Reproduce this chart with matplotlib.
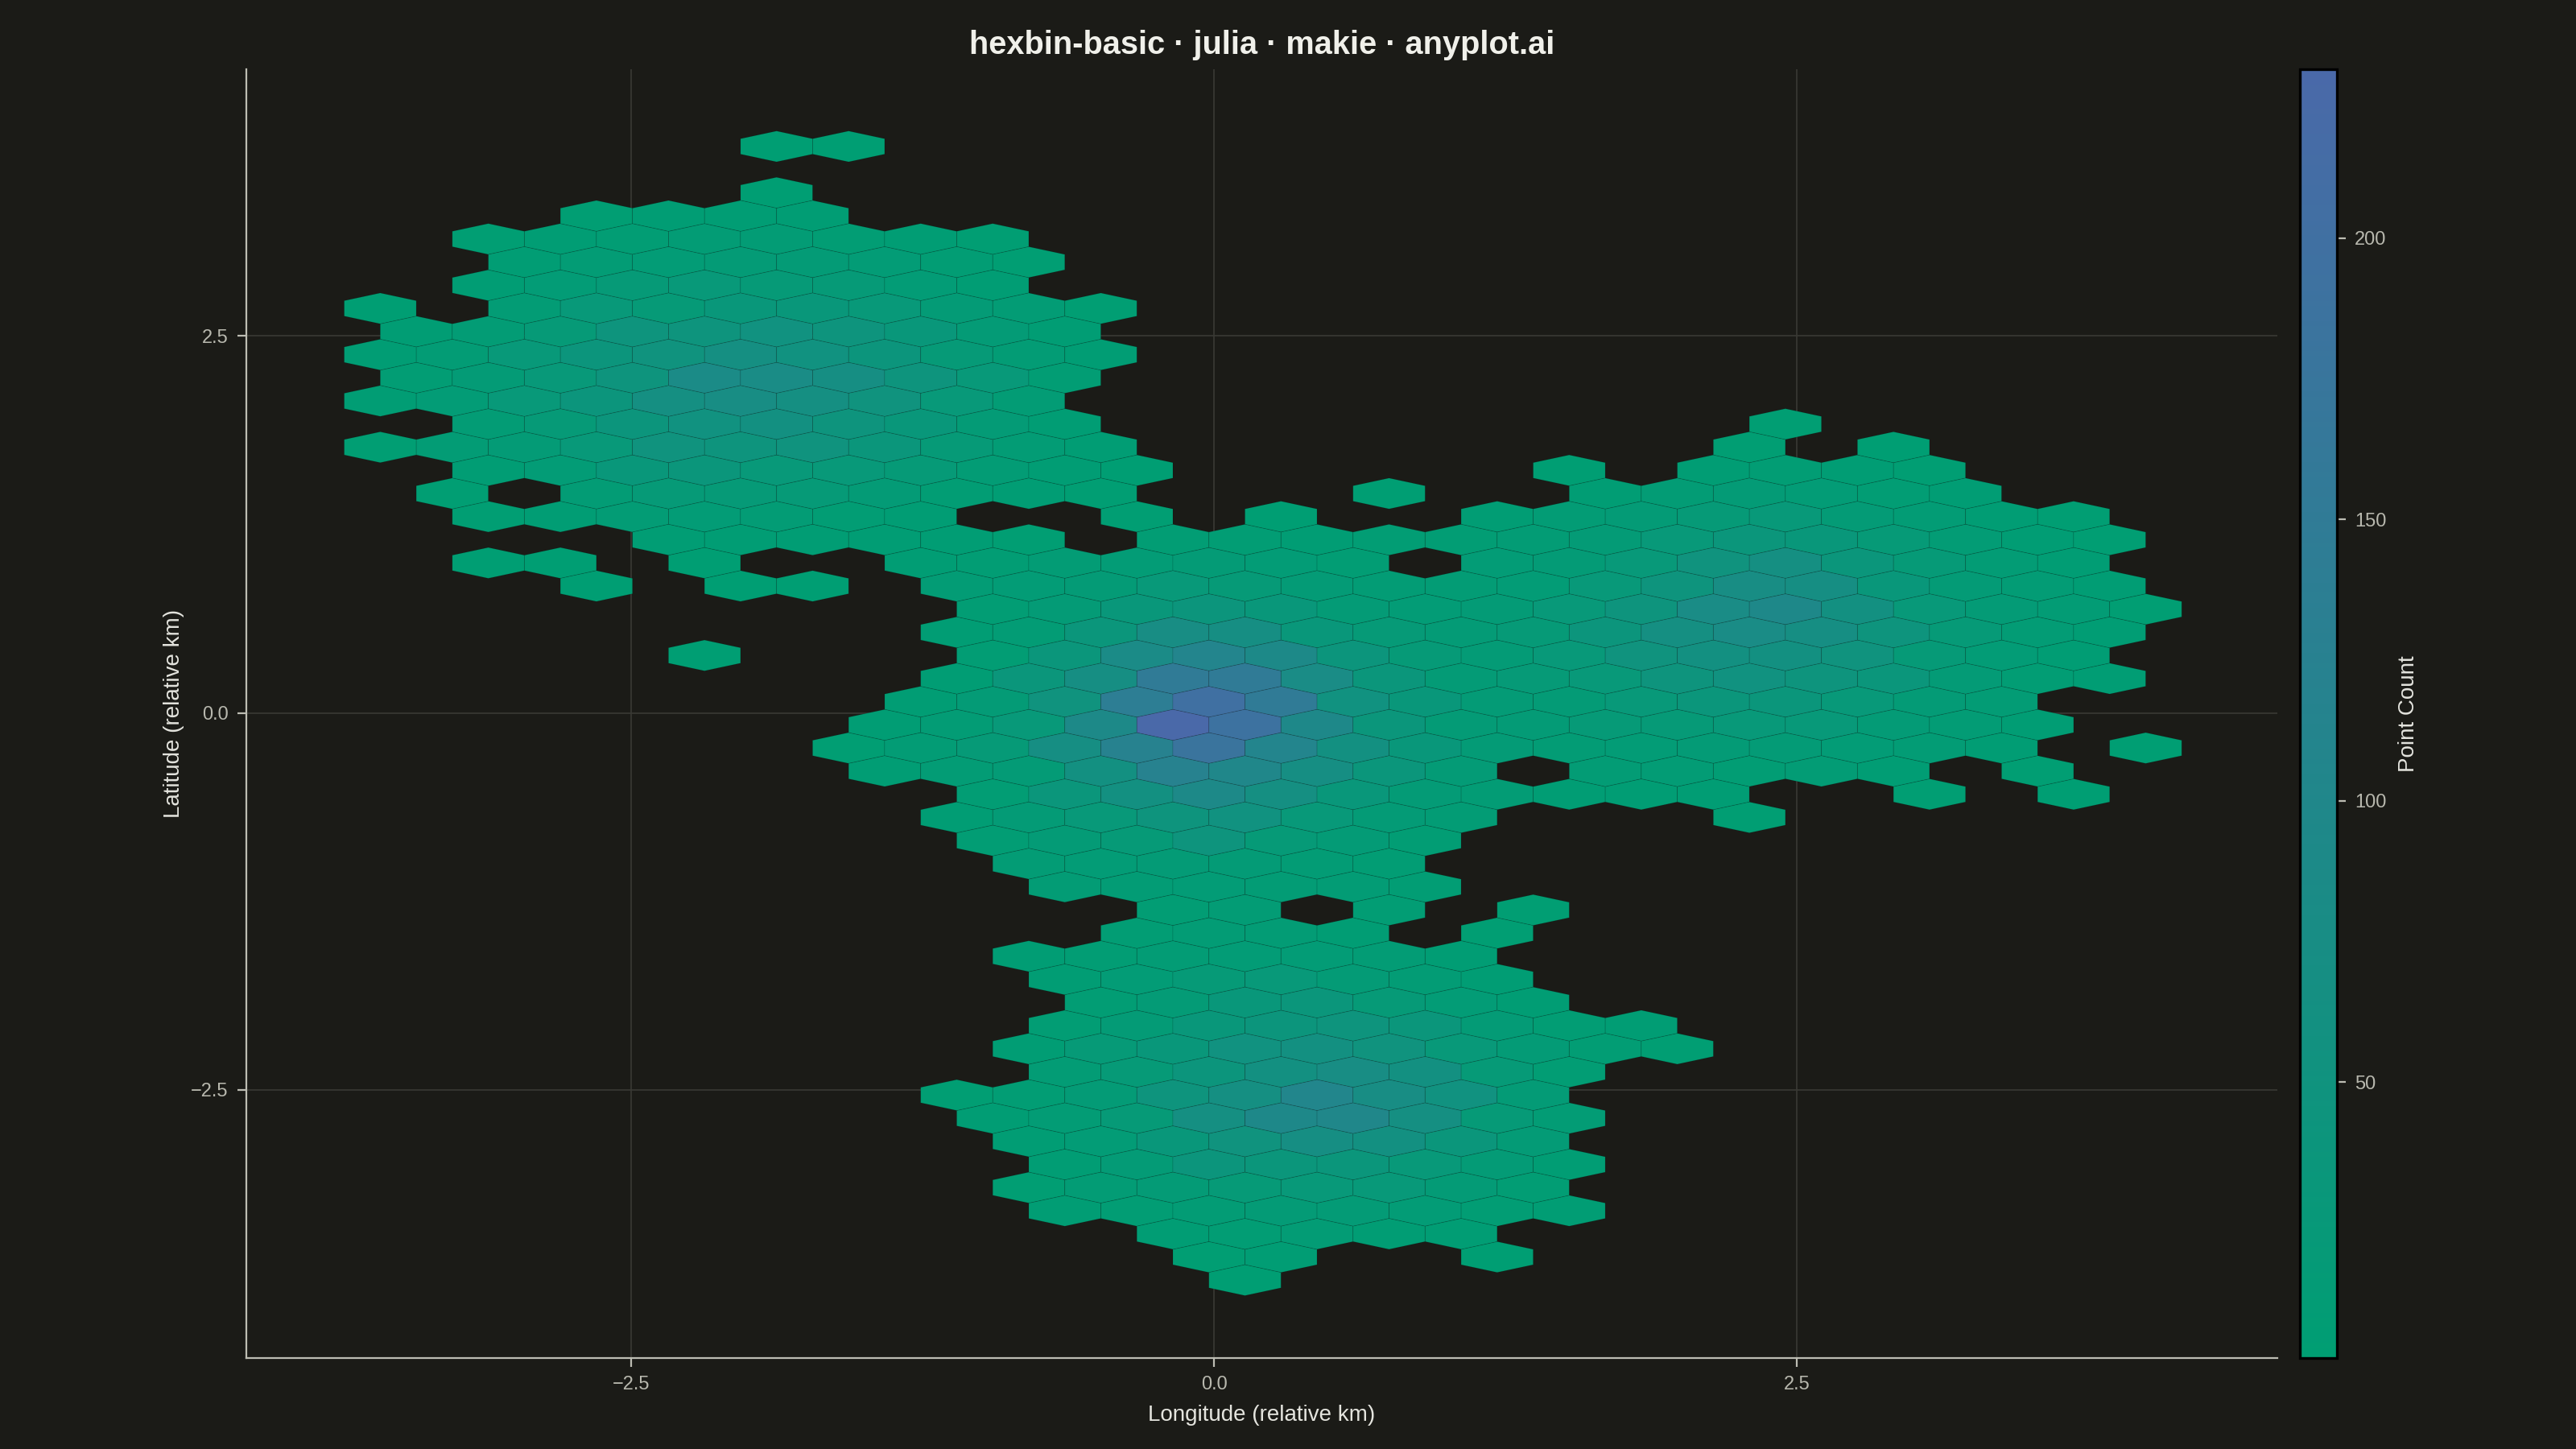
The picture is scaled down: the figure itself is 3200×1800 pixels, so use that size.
"""
Hexbin of point counts (dark theme), redrawn from a Makie chart.
Counts per hexagon were read off the picture.
"""

import numpy as np
import matplotlib
matplotlib.use("Agg")
from matplotlib import pyplot as plt
from matplotlib.colors import LinearSegmentedColormap

# Hexagon counts: row index -> list of (first column, counts).
# Inside a row the column index steps by 2; 0 means an empty cell.
rows = {
    24: [(-12, [1, 1])],
    22: [(-12, [2])],
    21: [(-17, [3, 4, 5, 4])],
    20: [(-20, [3, 5, 8, 10, 10, 8, 6, 3])],
    19: [(-19, [6, 10, 12, 15, 15, 12, 8, 3])],
    18: [(-20, [5, 12, 18, 25, 20, 18, 12, 5])],
    17: [(-23, [2, 0, 10, 25, 20, 30, 30, 25, 15, 10, 3])],
    16: [(-22, [5, 10, 20, 45, 45, 55, 45, 30, 15, 5])],
    15: [(-23, [4, 10, 25, 40, 50, 65, 55, 40, 20, 10, 4])],
    14: [(-22, [8, 15, 25, 45, 85, 80, 70, 45, 25, 8])],
    13: [(-23, [5, 12, 25, 40, 65, 75, 65, 50, 25, 10])],
    12: [(-20, [10, 20, 40, 55, 60, 45, 30, 15, 5]), (16, [3])],
    11: [(-23, [3, 10, 15, 25, 50, 45, 50, 35, 20, 10, 4]), (15, [3]), (19, [2])],
    10: [(-20, [6, 12, 30, 35, 25, 25, 20, 10, 6, 2]), (10, [2]),
         (14, [5, 8, 5, 3])],
    9: [(-21, [3]), (-17, [10, 20, 20, 20, 15, 8, 6, 3]), (5, [1]),
        (11, [5, 10, 15, 12, 8, 4])],
    8: [(-20, [3, 6, 10, 12, 10, 8, 6]), (-2, [3]), (2, [2]),
        (8, [5, 10, 15, 20, 25, 15, 10, 6, 3])],
    7: [(-15, [4, 5, 6, 5, 4, 3]),
        (-1, [8, 8, 6, 8, 8, 10, 15, 25, 35, 30, 20, 10, 6, 3])],
    6: [(-20, [2, 2]), (-14, [2]), (-8, [4, 8, 10, 12, 15, 12, 8]),
        (8, [12, 15, 25, 50, 65, 35, 20, 10, 5])],
    5: [(-17, [2]), (-13, [2, 2]),
        (-7, [10, 12, 15, 25, 20, 15, 10, 10, 12, 25, 45, 75, 70, 30, 15, 10, 5])],
    4: [(-6, [8, 15, 30, 40, 30, 15, 12, 15, 25, 45, 80, 95, 60, 25, 15, 10, 3])],
    3: [(-7, [5, 10, 35, 75, 70, 30, 20, 15, 20, 40, 65, 80, 70, 45, 20, 10, 6])],
    2: [(-14, [1]), (-6, [8, 35, 85, 110, 90, 40, 20, 15, 25, 50, 60, 60, 50, 20, 12, 6])],
    1: [(-7, [5, 35, 70, 150, 150, 80, 35, 15, 20, 25, 45, 55, 45, 35, 15, 8, 4])],
    0: [(-8, [5, 15, 50, 140, 200, 150, 55, 30, 15, 15, 25, 35, 35, 25, 15, 10])],
    -1: [(-9, [5, 10, 25, 90, 230, 190, 95, 35, 15, 15, 20, 20, 25, 25, 15, 10, 5])],
    -2: [(-10, [3, 10, 20, 70, 120, 180, 110, 60, 30, 15, 10, 12, 15, 15, 12, 10, 6]),
         (26, [1])],
    -3: [(-9, [5, 10, 15, 60, 120, 100, 70, 35, 15]), (11, [10, 10, 8, 10, 6]), (23, [3])],
    -4: [(-6, [8, 35, 60, 90, 65, 30, 15, 10, 5, 5, 5]), (20, [3]), (24, [2])],
    -5: [(-7, [5, 15, 25, 45, 55, 25, 15, 10]), (15, [3])],
    -6: [(-6, [8, 15, 20, 45, 20, 15, 8])],
    -7: [(-5, [10, 12, 15, 15, 10, 8])],
    -8: [(-4, [10, 10, 12, 10, 10, 8])],
    -9: [(-1, [8, 10]), (5, [8]), (9, [3])],
    -10: [(-2, [8, 10, 10, 6]), (8, [3])],
    -11: [(-5, [5, 8, 10, 12, 12, 10, 6])],
    -12: [(-4, [5, 12, 20, 25, 15, 10, 6])],
    -13: [(-3, [8, 15, 30, 35, 20, 12, 6])],
    -14: [(-4, [8, 15, 30, 40, 45, 35, 15, 8, 4])],
    -15: [(-5, [5, 20, 30, 55, 60, 50, 25, 15, 8, 3])],
    -16: [(-4, [10, 20, 40, 60, 75, 60, 20, 8])],
    -17: [(-7, [3, 8, 15, 45, 65, 105, 75, 55, 15])],
    -18: [(-6, [5, 10, 20, 65, 95, 100, 65, 20, 10])],
    -19: [(-5, [5, 12, 30, 50, 70, 60, 35, 15])],
    -20: [(-4, [6, 15, 40, 35, 35, 25, 15, 6])],
    -21: [(-5, [3, 10, 15, 20, 25, 25, 15, 8])],
    -22: [(-4, [4, 8, 10, 15, 15, 12, 8, 5])],
    -23: [(-1, [5, 8, 10, 6, 4])],
    -24: [(0, [3, 4]), (8, [2])],
    -25: [(1, [2])],
}

# Grid of the hexbin (relative km)
cell_w = 0.309    # distance between centres in one row
row_h = 0.1535    # distance between rows
x0, y0 = -0.022, 0.074

cbar_ticks = [50, 100, 150, 200]

# Colours
bg = '#1b1b17'
fg = '#f0f0ea'
muted = '#b8b8ae'
cmap = LinearSegmentedColormap.from_list('anyplot', ['#009e73', '#4a69a9'])

# Cell centres from the grid indices
xs, ys, counts = [], [], []
for j, segments in rows.items():
    for c0, vals in segments:
        for k, n in enumerate(vals):
            if n > 0:
                xs.append(x0 + (c0 + 2 * k) * cell_w / 2)
                ys.append(y0 + j * row_h)
                counts.append(n)

plt.rcParams['font.family'] = ['Liberation Sans', 'DejaVu Sans']

fig = plt.figure(figsize=(16, 9), dpi=200, facecolor=bg)
ax = fig.add_axes([0.0956, 0.0628, 0.7885, 0.8894])
ax.set_facecolor(bg)

# Hexbin with the same lattice as the picture
nx, ny = 32, 28
xmin = x0 - 16 * cell_w
ymin = y0 - 28 * row_h
extent = (xmin, xmin + nx * cell_w, ymin, ymin + ny * 2 * row_h)
hb = ax.hexbin(xs, ys, C=counts, reduce_C_function=np.sum,
               gridsize=(nx, ny), extent=extent, cmap=cmap,
               vmin=min(counts), vmax=max(counts),
               linewidths=0.3, edgecolors=(0, 0, 0, 0.13), zorder=2)

ax.set_xlim(-4.15, 4.56)
ax.set_ylim(-4.28, 4.27)
ax.set_xticks([-2.5, 0, 2.5])
ax.set_yticks([-2.5, 0, 2.5])
ax.grid(True, color='#3a3a35', linewidth=0.6, zorder=0)
ax.set_axisbelow(True)

for side in ['top', 'right']:
    ax.spines[side].set_visible(False)
for side in ['left', 'bottom']:
    ax.spines[side].set_color('#bdbdb3')
    ax.spines[side].set_linewidth(0.8)
ax.tick_params(colors='#bdbdb3', labelcolor=muted, labelsize=8.5,
               length=4, width=0.8, pad=4)

ax.set_xlabel('Longitude (relative km)', color='#e4e4de', fontsize=10, labelpad=5)
ax.set_ylabel('Latitude (relative km)', color='#e4e4de', fontsize=10, labelpad=3)

fig.text(0.49, 0.969, 'hexbin-basic · julia · makie · anyplot.ai',
         ha='center', va='center', color=fg, fontsize=14.3, fontweight='bold')

# Colorbar
cax = fig.add_axes([0.8928, 0.0628, 0.0144, 0.8894])
cb = fig.colorbar(hb, cax=cax)
cb.set_ticks(cbar_ticks)
cb.outline.set_edgecolor('black')
cb.outline.set_linewidth(1.2)
cax.tick_params(colors='#bdbdb3', labelcolor=muted, labelsize=8.5,
                length=4, width=0.8, pad=4)
cb.set_label('Point Count', color='#e4e4de', fontsize=10, labelpad=5)

plt.savefig('out.png', dpi=200, facecolor=bg)
